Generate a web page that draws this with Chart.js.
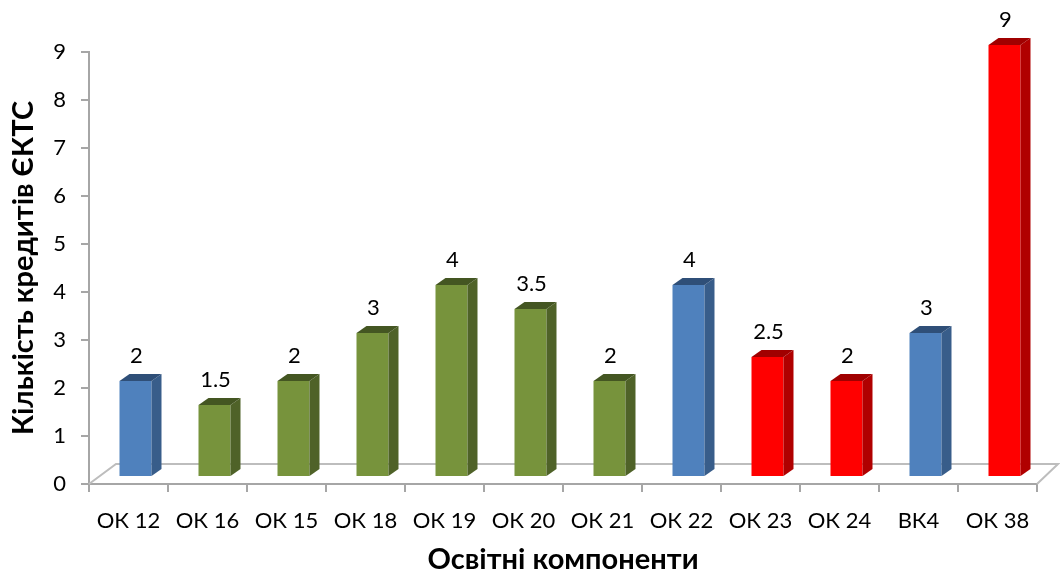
<!DOCTYPE html>
<html>
<head>
<meta charset="utf-8">
<script src="https://cdn.jsdelivr.net/npm/chart.js@4.4.0/dist/chart.umd.min.js"></script>
<style>
body{margin:0;background:#fff}
#wrap{width:1060px;height:577px}
</style>
</head>
<body>
<div id="wrap"><canvas id="chart"></canvas></div>
<script>
// data
const labels=['ОК 12','ОК 16','ОК 15','ОК 18','ОК 19','ОК 20','ОК 21','ОК 22','ОК 23','ОК 24','ВК4','ОК 38']
const values=[2,1.5,2,3,4,3.5,2,4,2.5,2,3,9]
const groups=['b','g','g','g','g','g','g','b','r','r','b','r']
const yTicks=[0,1,2,3,4,5,6,7,8,9]

const front={b:'#4f81bd',g:'#77933c',r:'#ff0000'}
const side={b:'#385d8a',g:'#4f6228',r:'#b00000'}
const top3={b:'#2f4f78',g:'#445622',r:'#a00000'}

const DX=7, DY=-7, SW=10, SH=7

// fake 3d bars
const bar3d={
id:'bar3d',
beforeDatasetsDraw(chart){
const ctx=chart.ctx
const a=chart.chartArea
ctx.save()
ctx.strokeStyle='#bdbdbd'
ctx.lineWidth=2
ctx.beginPath()
ctx.moveTo(a.left,a.bottom)
ctx.lineTo(a.left+27,a.bottom-20)
ctx.lineTo(a.right+21,a.bottom-20)
ctx.lineTo(a.right,a.bottom)
ctx.stroke()
ctx.restore()
ctx.save()
ctx.translate(DX,DY)
},
afterDatasetsDraw(chart){
const ctx=chart.ctx
ctx.restore()
const meta=chart.getDatasetMeta(0)
ctx.save()
meta.data.forEach((bar,i)=>{
const g=groups[i]
const l=bar.x-bar.width/2+DX
const r=bar.x+bar.width/2+DX
const t=bar.y+DY
const b=bar.base+DY
ctx.fillStyle=side[g]
ctx.beginPath()
ctx.moveTo(r,t)
ctx.lineTo(r+SW,t-SH)
ctx.lineTo(r+SW,b-SH)
ctx.lineTo(r,b)
ctx.closePath()
ctx.fill()
ctx.fillStyle=top3[g]
ctx.beginPath()
ctx.moveTo(l,t)
ctx.lineTo(l+SW,t-SH)
ctx.lineTo(r+SW,t-SH)
ctx.lineTo(r,t)
ctx.closePath()
ctx.fill()
// value label
ctx.fillStyle='#000'
ctx.font='22px Lato'
ctx.textAlign='center'
ctx.textBaseline='middle'
ctx.fillText(String(values[i]),bar.x+DX+1,t-25)
})
ctx.restore()
}
}

new Chart(document.getElementById('chart'),{
type:'bar',
data:{
labels:labels,
datasets:[{
data:values,
backgroundColor:groups.map(g=>front[g]),
borderWidth:0,
barPercentage:0.405,
categoryPercentage:1,
clip:false
}]
},
options:{
responsive:true,
maintainAspectRatio:false,
animation:false,
layout:{padding:{top:52,right:23,left:0,bottom:0}},
plugins:{legend:{display:false},tooltip:{enabled:false}},
scales:{
x:{
afterFit(s){s.height=93},
grid:{drawOnChartArea:false,drawTicks:true,tickLength:8,color:'#a6a6a6',lineWidth:2,offset:true},
border:{color:'#a6a6a6',width:2},
ticks:{color:'#000',font:{family:'Lato',size:22},padding:16,maxRotation:0},
title:{display:true,text:'Освітні компоненти',color:'#000',font:{family:'Lato',size:29,weight:'bold'},padding:{top:0,bottom:0}}
},
y:{
min:0,max:9,
afterFit(s){s.width=89},
afterBuildTicks(s){s.ticks=yTicks.map(v=>({value:v}))},
grid:{drawOnChartArea:false,drawTicks:true,tickLength:8,color:'#a6a6a6',lineWidth:2},
border:{color:'#a6a6a6',width:2},
ticks:{color:'#000',font:{family:'Lato',size:22},padding:15},
title:{display:true,text:'Кількість кредитів ЄКТС',color:'#000',font:{family:'Lato',size:29,weight:'bold'},padding:{top:6,bottom:0}}
}
}
},
plugins:[bar3d]
})
</script>
</body>
</html>
